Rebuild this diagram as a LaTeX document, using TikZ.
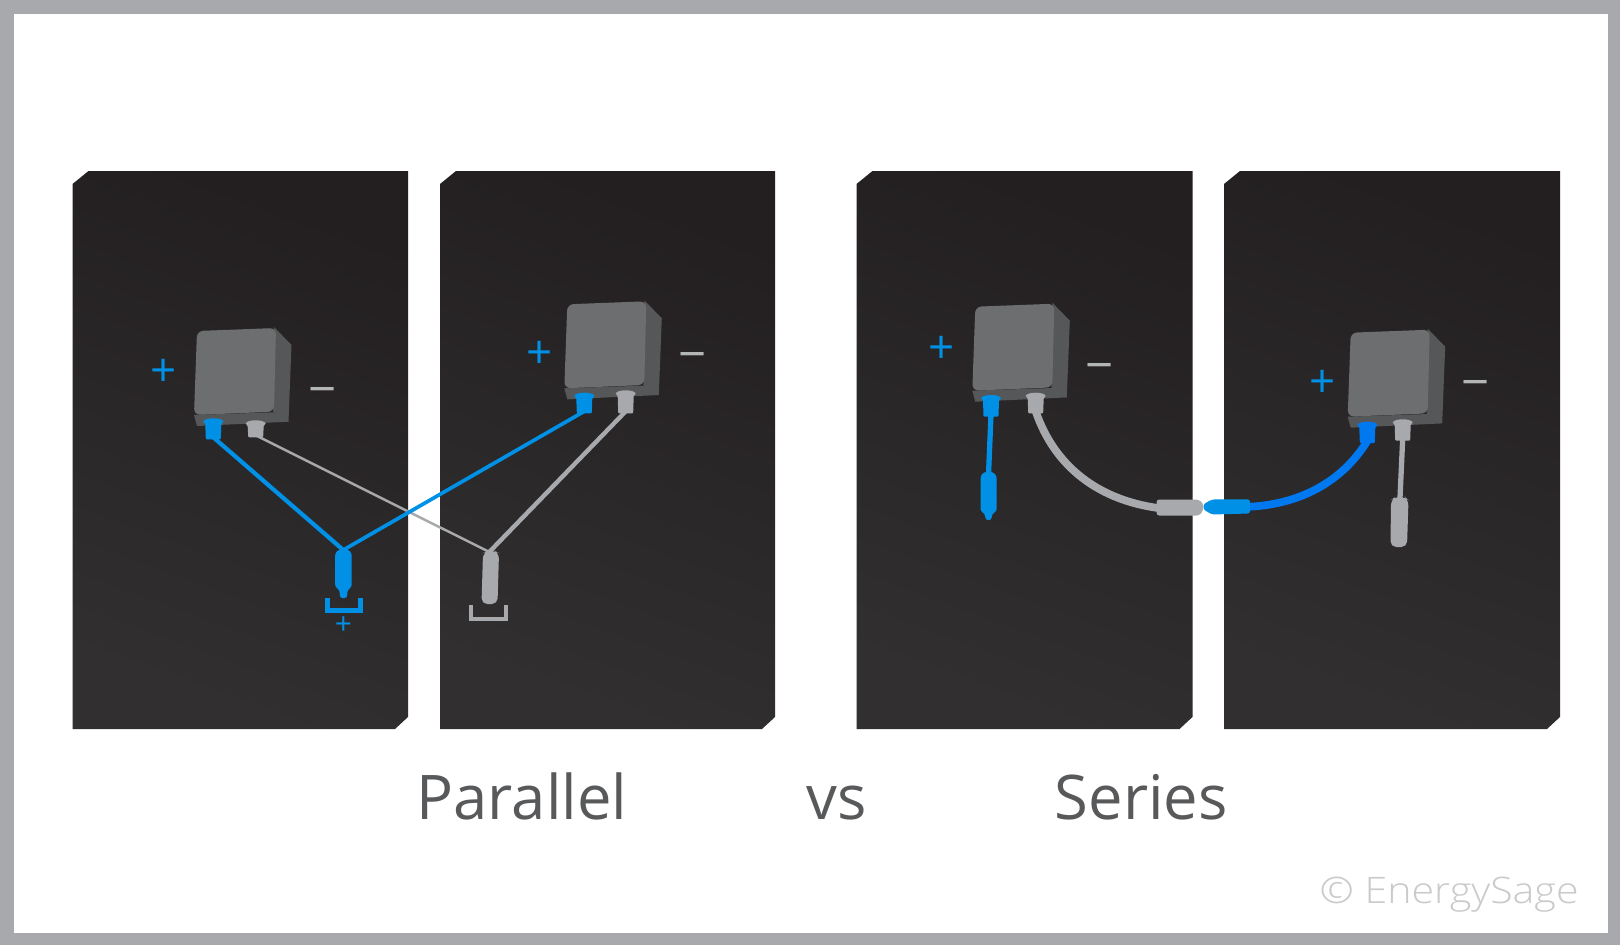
\documentclass[tikz,border=0pt]{standalone}
\usepackage{fontspec}
\setmainfont{Open Sans}
\newfontfamily\lightf{Open Sans Light}
\newfontfamily\widef[FakeStretch=1.125]{Open Sans Light}
\definecolor{framegray}{HTML}{A7A9AC}
\definecolor{paneltop}{HTML}{231F20}
\definecolor{panelbot}{HTML}{312F30}
\definecolor{boxfront}{HTML}{6D6E70}
\definecolor{boxside}{HTML}{565759}
\definecolor{wireblue}{HTML}{0091E6}
\definecolor{deepblue}{HTML}{0078F0}
\definecolor{wiregray}{HTML}{A7A9AC}
\definecolor{labelgray}{HTML}{58595B}
\definecolor{minusgray}{HTML}{B4B5B7}
\definecolor{markgray}{HTML}{C8CACB}
\tikzset{
  panelshape/.style={top color=paneltop,bottom color=panelbot,shading angle=-20,draw=none},
  bluewire/.style={draw=wireblue,line width=1.2pt},
  graywire/.style={draw=wiregray,line width=1.25pt},
  plus/.style={text=wireblue,font=\fontsize{13}{13}\selectfont,inner sep=0pt,yshift=-1pt},
  minus/.style={text=minusgray,font=\fontsize{14}{14}\selectfont,inner sep=0pt,yshift=-2.4pt},
  caption/.style={text=labelgray,font=\fontsize{17.5}{20}\selectfont,inner sep=0pt,anchor=base west},
}
\newcommand\panelat[2]{% left, right
  \path[panelshape] (#1+16,171) -- (#2,171) -- (#2,717) -- (#2-13,729) -- (#1,729) -- (#1,184) -- cycle;}
\newcommand\jbox[2]{% bottom-left corner of the front face
  \begin{scope}[shift={(#1,#2)}]
    \fill[boxside] (0,0) -- (3,11) -- (94.5,6.7) -- (90,-3) -- cycle;
    \fill[boxside] (80,-88) -- (97.5,-70) -- (94.5,6.7) -- (79,-3.3) -- cycle;
    \fill[boxfront,rounded corners=1.8pt] (0,0) -- (3,-84) -- (82,-87) -- (80,-3.3) -- cycle;
  \end{scope}}
\newcommand\plug[5]{% name, centre x, top y, bottom y, colour
  \fill[#5] (#2-10,#3+4) .. controls (#2-8,#3) and (#2+8,#3) .. (#2+10,#3+4)
     -- (#2+8,#3+7) -- (#2+7.5,#4-1) -- (#2+6.5,#4) -- (#2-6.5,#4) -- (#2-7.5,#4-1) -- (#2-8,#3+7) -- cycle;
  \coordinate (#1) at (#2,#4-2);}
\begin{document}
\begin{tikzpicture}[x=0.01cm,y=-0.01cm]
\useasboundingbox (0,0) rectangle (1620,945);
\fill[framegray] (0,0) rectangle (1620,945);
\fill[white] (14,14) rectangle (1608,933);
\panelat{72.5}{408}
\panelat{440}{775}
\panelat{856.5}{1192.5}
\panelat{1224}{1560}
\jbox{194}{415}
\jbox{564.3}{388.3}
\jbox{972.3}{390.7}
\jbox{1347.7}{416.7}
% join points
\coordinate (bluejoin) at (343.3,550);
\coordinate (grayjoin) at (489.3,552);
% plugs at the boxes
\plug{bA}{213.3}{417.3}{439.3}{wireblue}
\plug{gA}{255.7}{419.3}{437.3}{wiregray}
\plug{bB}{584.3}{391.7}{413.3}{wireblue}
\plug{gB}{625.7}{389.3}{413.3}{wiregray}
\plug{bC}{991}{394}{416.7}{wireblue}
\plug{gC}{1035.7}{391.7}{413.3}{wiregray}
\plug{bD}{1367.3}{420.7}{443}{deepblue}
\plug{gD}{1402.7}{418.3}{440.7}{wiregray}
% parallel wires
\draw[graywire,line width=0.7pt] (gA) -- (grayjoin);
\draw[graywire] (gB) -- (grayjoin);
\draw[bluewire] (bA) -- (bluejoin);
\draw[bluewire,line width=1.05pt] (bB) -- (bluejoin);
% parallel combined plugs
\fill[wireblue,rounded corners=0.7pt] (335.2,553) -- (339,549.5) -- (348,549.5) -- (351.7,553) -- (351.7,587) -- (347.5,590) -- (347,598) -- (340,598) -- (339.5,590) -- (335.2,587) -- cycle;
\fill[wiregray,rounded corners=1.6pt] (483,553) -- (487,551) -- (495,551) -- (499,553) -- (497.5,604) -- (481.5,604) -- cycle;
% bracket symbols
\coordinate (brA1) at (327.5,597.5);
\coordinate (brA2) at (360.5,597.5);
\coordinate (brB1) at (471,605);
\coordinate (brB2) at (505.8,605);
\draw[draw=wireblue,line width=1.3pt] (brA1) -- ++(0,13) -| (brA2);
\draw[draw=wiregray,line width=1.1pt] (brB1) -- ++(0,14) -| (brB2);
% series free leads
\draw[draw=wireblue,line width=1.5pt] (bC) -- (988.5,475);
\fill[wireblue,rounded corners=0.7pt] (980.5,476) -- (984,472) -- (993,472) -- (996.7,476) -- (996.7,511) -- (992,514) -- (991.5,520) -- (985.5,520) -- (985,514) -- (980.5,511) -- cycle;
\draw[draw=wiregray,line width=1.5pt] (gD) -- (1400,498);
\fill[wiregray,rounded corners=1.6pt] (1391,500) -- (1395,497) -- (1405,497) -- (1408.5,500) -- (1407,547) -- (1390.5,547) -- cycle;
% series link
\coordinate (gl) at (1158,508);
\coordinate (bl) at (1250,506.7);
\draw[draw=wiregray,line width=2.2pt] (gC) .. controls (1055,468) and (1100,500) .. (gl);
\draw[draw=deepblue,line width=2.2pt] (bD) .. controls (1342,482) and (1300,504) .. (bl);
\fill[wiregray,rounded corners=0.7pt] (1156.7,499.5) -- (1198,499.5) -- (1203,503) -- (1203,511) -- (1199,515.5) -- (1156.7,515.5) -- cycle;
\fill[wireblue,rounded corners=0.7pt] (1203.5,504) -- (1212,499.5) -- (1250,499.3) -- (1250,513.5) -- (1212,514.5) -- (1203.5,509.5) -- cycle;
% polarity labels
\node[plus] (pA) at (163.3,369) {+};
\node[minus] (mA) at (322.7,388.3) {−};
\node[plus] (pB) at (539.3,351.7) {+};
\node[minus] (mB) at (692.7,353.3) {−};
\node[plus] (pC) at (941.7,346) {+};
\node[minus] (mC) at (1100,364.3) {−};
\node[plus] (pD) at (1322.7,380) {+};
\node[minus] (mD) at (1475.7,381.7) {−};
\node[plus,font=\fontsize{8.5}{9}\selectfont] (pE) at (343.3,622.3) {+};
% captions
\node[caption] (parallel) at (416,819) {Parallel};
\node[caption] (versus) at (806,819) {vs};
\node[caption] (series) at (1054,819) {Series};
\node[caption,text=markgray,font=\widef\fontsize{10.4}{12}\selectfont] (credit) at (1319,903) {© EnergySage};
\end{tikzpicture}
\end{document}
